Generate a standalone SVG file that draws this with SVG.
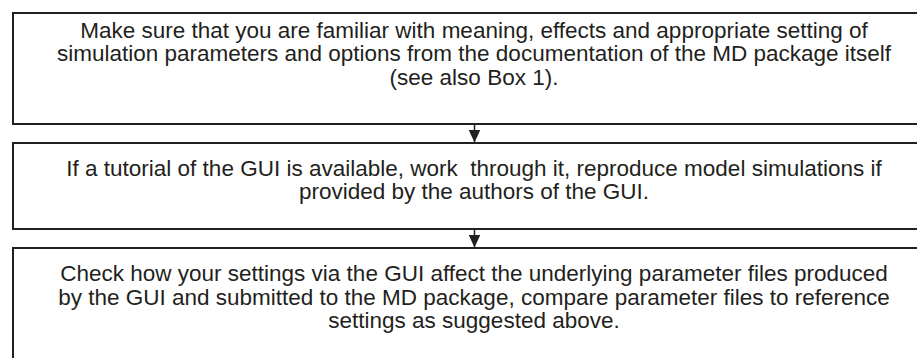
<svg xmlns="http://www.w3.org/2000/svg" width="917" height="358" viewBox="0 0 917 358">
<style>
.box{fill:#fff;stroke:#231f20;stroke-width:2}
.t{font-family:"Liberation Sans",Arial,sans-serif;font-size:22.5px;fill:#231f20;text-anchor:middle;white-space:pre}
.c{stroke:#231f20;stroke-width:1.5;fill:none}
</style>
<defs>
<marker id="ah" viewBox="0 0 13 12" refX="13" refY="6" markerWidth="13" markerHeight="12" markerUnits="userSpaceOnUse" orient="auto">
<path d="M0,0 L13,6 L0,12 Z" fill="#231f20"/>
</marker>
</defs>
<rect width="917" height="358" fill="#fff"/>
<g id="connectors">
<line class="c" x1="474.5" y1="124" x2="474.5" y2="142.5" marker-end="url(#ah)"/>
<line class="c" x1="474.5" y1="229" x2="474.5" y2="247.5" marker-end="url(#ah)"/>
</g>
<g id="node1">
<rect class="box" x="13" y="13" width="930" height="111"/>
<text class="t" x="474" y="38">Make sure that you are familiar with meaning, effects and appropriate setting of</text>
<text class="t" x="474" y="61">simulation parameters and options from the documentation of the MD package itself</text>
<text class="t" x="474" y="85">(see also Box 1).</text>
</g>
<g id="node2">
<rect class="box" x="13" y="143" width="930" height="86"/>
<text class="t" x="474" y="176" xml:space="preserve">If a tutorial of the GUI is available, work  through it, reproduce model simulations if</text>
<text class="t" x="474" y="199">provided by the authors of the GUI.</text>
</g>
<g id="node3">
<rect class="box" x="13" y="248" width="930" height="130"/>
<text class="t" x="474" y="281">Check how your settings via the GUI affect the underlying parameter files produced</text>
<text class="t" x="474" y="305">by the GUI and submitted to the MD package, compare parameter files to reference</text>
<text class="t" x="474" y="328">settings as suggested above.</text>
</g>
</svg>
